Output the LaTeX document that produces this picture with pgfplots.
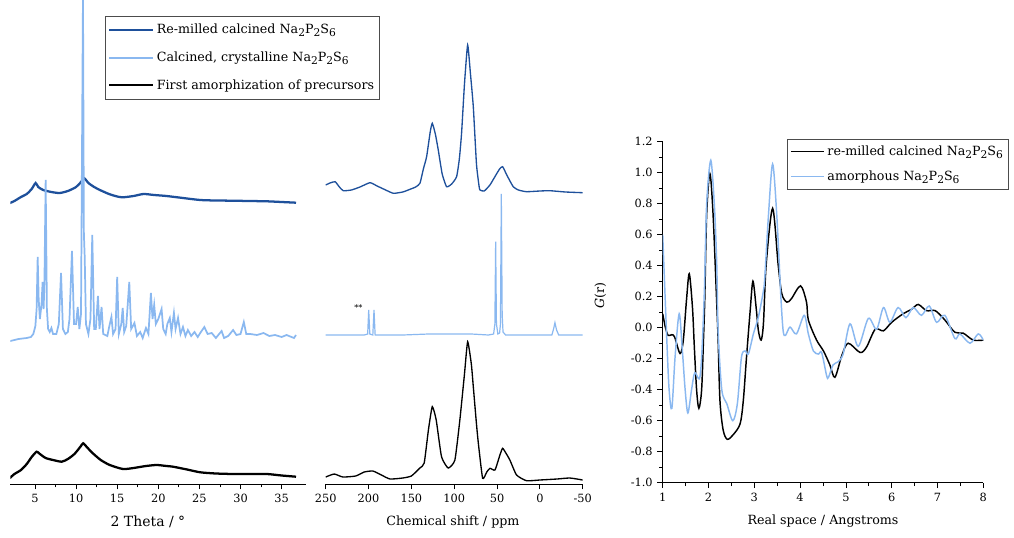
\documentclass[border=0pt]{standalone}
\usepackage{fontspec}
\setmainfont{DejaVu Serif}
\usepackage{pgfplots}
\pgfplotsset{compat=1.18}
\definecolor{dblue}{RGB}{30,80,155}
\definecolor{lblue}{RGB}{138,184,240}
\newcommand\sbs[1]{\raisebox{-0.45ex}{\fontsize{8}{8}\selectfont #1}}
\newcommand\NPS{Na\sbs{2}P\sbs{2}S\sbs{6}}
\begin{document}
\begin{tikzpicture}
\useasboundingbox (0,0) rectangle (760.5pt,402.75pt);
% ---------------- Panel 1: XRD ----------------
\begin{axis}[
  at={(7.725pt,39.75pt)}, anchor=south west,
  scale only axis, width=222pt, height=363pt,
  xmin=2, xmax=38, ymin=0, ymax=484,
  axis x line*=bottom, hide y axis,
  xtick={5,10,...,35}, minor x tick num=1,
  tick align=outside, major tick length=4pt, minor tick length=2.5pt,
  tick style={black, semithick},
  every axis x line/.append style={black, semithick},
  /pgf/number format/assume math mode=true,
  ticklabel style={font=\fontsize{8.5}{10}\selectfont},
  xlabel={2 Theta / °},
  xlabel style={at={(axis description cs:0.465,-0.0785)},anchor=center,font=\fontsize{10.5}{12}\selectfont},
  legend style={at={(axis description cs:0.32,0.967)},anchor=north west,
    draw=black!70, thin, font=\fontsize{9.5}{11}\selectfont, row sep=8pt, inner ysep=4pt, inner xsep=2pt},
  legend cell align=left,
  legend image code/.code={\draw[#1] (0pt,0pt) -- (33pt,0pt);},
  clip=true,
]
\addplot[dblue, line width=1.7pt, smooth, tension=0.4] coordinates {
(1.96,281) (2.5,283) (3.3,287) (4.0,290) (4.6,295) (5.08,301) (5.4,297) (6.0,294) (7.0,292) (8.0,291) (9.0,293) (10.0,297) (10.6,302) (11.0,305.7) (11.5,301) (12.2,297) (12.9,294) (14.0,290) (15.0,287.5) (15.7,286.7) (17.0,288) (18.2,290) (19.5,289) (21.0,288) (23.0,286) (25.1,284) (27.0,283.5) (29.1,283.3) (31.0,283) (33.2,282.7) (35.0,282) (36.75,281.3)};
\addlegendentry{Re-milled calcined \NPS}
\addplot[lblue, line width=1.3pt] coordinates {
(2.0,143) (3.0,145) (4.0,146) (4.5,147) (4.8,150) (5.05,158) (5.2,175) (5.33,227) (5.45,185) (5.6,165) (5.8,180) (5.93,202) (6.05,175) (6.15,200) (6.3,304) (6.45,175) (6.6,155) (6.8,152) (7.0,156) (7.2,150) (7.6,150) (7.9,160) (8.17,211) (8.4,155) (8.7,150) (9.0,152) (9.2,165) (9.5,233) (9.75,160) (10.0,160) (10.2,177) (10.4,155) (10.6,170) (10.84,490) (10.95,250) (11.05,227) (11.2,160) (11.5,150) (11.75,165) (11.97,249) (12.2,155) (12.4,155) (12.66,188) (12.85,155) (13.1,177) (13.3,150) (13.8,148) (14.1,160) (14.3,167) (14.5,150) (14.8,155) (15.0,207) (15.2,150) (15.5,160) (15.67,176) (15.85,152) (16.1,158) (16.47,202) (16.7,155) (17.1,161) (17.4,148) (17.8,152) (18.1,146) (18.5,156) (18.8,150) (19.1,191) (19.3,165) (19.5,179) (19.7,160) (20.0,165) (20.4,175) (20.6,155) (20.9,150) (21.1,160) (21.4,166) (21.6,152) (21.9,171) (22.1,155) (22.4,166) (22.7,150) (23.0,157) (23.3,148) (23.6,154) (24.0,148) (24.4,152) (24.8,147) (25.1,151) (25.6,157) (26.0,150) (26.5,151) (27.0,146) (27.7,153) (28.0,146) (28.5,148) (29.1,154) (29.5,149) (30.0,150) (30.4,162) (30.7,150) (31.2,150) (32.0,149) (32.8,151) (33.5,148) (34.2,149) (35.0,147) (35.6,149) (36.2,147) (36.5,146) (36.75,149)};
\addlegendentry{Calcined, crystalline \NPS}
\addplot[black, line width=1.7pt, smooth, tension=0.4] coordinates {
(1.96,6) (2.5,10) (3.3,14) (4.0,20) (4.6,27) (5.2,32.3) (5.6,30) (6.3,26) (7.2,24) (8.25,22.3) (9.0,25) (9.8,30) (10.5,37) (10.87,40.7) (11.3,37) (12.0,31) (13.0,24) (14.1,19) (15.7,15) (17.0,16) (18.5,18) (19.8,19) (21.0,18) (21.8,17.3) (23.5,14.5) (25.1,11.7) (27.0,10.5) (29.1,10) (31.0,10) (33.2,10) (35.0,8.5) (36.75,7.3)};
\addlegendentry{First amorphization of precursors}
\end{axis}
% ---------------- Panel 2: NMR ----------------
\begin{axis}[
  at={(244.275pt,39.75pt)}, anchor=south west,
  scale only axis, width=192.75pt, height=363pt,
  xmin=-50, xmax=250, x dir=reverse, ymin=0, ymax=484,
  axis x line*=bottom, hide y axis,
  xtick={-50,0,...,250},
  tick align=outside, major tick length=4pt,
  tick style={black, semithick},
  every axis x line/.append style={black, semithick},
  /pgf/number format/assume math mode=true,
  ticklabel style={font=\fontsize{8.5}{10}\selectfont},
  xlabel={Chemical shift / ppm},
  xlabel style={at={(axis description cs:0.495,-0.078)},anchor=center,font=\fontsize{9.5}{11}\selectfont},
]
\addplot[dblue, line width=1.0pt, smooth, tension=0.3] coordinates {
(250,299) (245,301) (239,302.3) (234,297) (229.5,293.3) (220,294) (210,297) (198.3,301.3) (190,298) (180,294) (171,290.7) (160,292) (151.6,294.7) (145,297) (140,300.7) (136,315) (132.2,327.3) (128,352) (125.6,360.7) (122,350) (118.6,334) (114,310) (108.9,297.3) (103,300) (97.2,307.3) (94,325) (91.4,350.7) (88,400) (84.3,439) (81,410) (77.7,377.3) (74,320) (71,298) (69.9,294) (65,293) (58.3,299) (52,308) (47,315) (43.5,317.3) (38,308) (31.1,297.3) (25,294) (15.6,292.3) (0,293) (-11.6,293.3) (-30,292) (-50,291.3)};
\addplot[lblue, line width=0.9pt] coordinates {
(250,149) (205,149) (201,150) (199.8,174) (198.5,150) (195,149) (193.6,174) (192.3,149) (160,149) (130,150) (100,150) (80,150) (60,149) (54,150) (52.5,160) (51.6,242.3) (50.7,160) (49,150) (47,151) (46,160) (45,290) (44,170) (43,152) (40,149) (20,149) (-14,149) (-16,155) (-17.6,161.3) (-19.5,154) (-22,149) (-50,149)};
\addplot[black, line width=1.0pt, smooth, tension=0.3] coordinates {
(250,7) (240,10) (230,7) (215,8) (205,12) (195,13) (185,9) (175,5) (160,6) (150,8) (140,16) (135,21) (130.1,54) (125.6,77.3) (121,64) (114.8,27.3) (107,16) (99.2,24) (93.4,64) (88,110) (84.3,142.3) (80,120) (77.7,97.3) (74,60) (71.8,40.7) (66.8,5.7) (62,12) (58.3,15.7) (52.4,14) (47,28) (43.5,35.7) (39,30) (35,24) (27.2,9) (15.6,3.3) (0,4) (-20,5) (-35,6) (-50,4)};
\node[font=\fontsize{6}{6}\selectfont] at (axis cs:212,176) {**};
\end{axis}
% ---------------- Panel 3: PDF ----------------
\begin{axis}[
  at={(497.025pt,40.725pt)}, anchor=south west,
  scale only axis, width=240.45pt, height=255.75pt,
  xmin=1, xmax=8, ymin=-1.0, ymax=1.2,
  axis x line*=bottom, axis y line*=left,
  xtick={1,...,8}, minor x tick num=1,
  ytick={-1.0,-0.8,...,1.21}, minor y tick num=1,
  tick align=outside, major tick length=4pt, minor tick length=2.5pt,
  tick style={black, semithick},
  every axis x line/.append style={black, semithick},
  every axis y line/.append style={black, semithick},
  /pgf/number format/assume math mode=true,
  yticklabel style={/pgf/number format/fixed, /pgf/number format/fixed zerofill, /pgf/number format/precision=1},
  ticklabel style={font=\fontsize{8.5}{10}\selectfont},
  xlabel={Real space / Angstroms},
  xlabel style={at={(axis description cs:0.5,-0.114)},anchor=center,font=\fontsize{9.5}{11}\selectfont},
  ylabel={\textit{G}(r)},
  ylabel style={at={(axis description cs:-0.195,0.55)},anchor=center,rotate=0,font=\fontsize{9.5}{11}\selectfont},
  legend style={at={(axis description cs:0.388,1.008)},anchor=north west,
    draw=black!70, thin, font=\fontsize{9.5}{11}\selectfont, row sep=6pt, inner ysep=3pt, inner xsep=2pt},
  legend cell align=left,
  legend image code/.code={\draw[#1] (0pt,0pt) -- (25pt,0pt);},
]
\addplot[black, line width=1.1pt, smooth, tension=0.5] coordinates {
(1.0,0.09) (1.06,0.0) (1.12,-0.05) (1.2,-0.045) (1.26,-0.06) (1.38,-0.167) (1.45,-0.08) (1.52,0.18) (1.58,0.348) (1.65,0.13) (1.69,-0.12) (1.74,-0.40) (1.79,-0.52) (1.85,-0.40) (1.89,-0.08) (1.92,0.2) (1.96,0.73) (2.03,0.995) (2.10,0.73) (2.18,0.155) (2.21,-0.08) (2.25,-0.47) (2.32,-0.66) (2.41,-0.72) (2.54,-0.69) (2.69,-0.62) (2.76,-0.47) (2.83,-0.19) (2.91,0.11) (2.97,0.30) (3.04,0.13) (3.09,-0.02) (3.15,-0.08) (3.20,0.03) (3.26,0.41) (3.40,0.77) (3.52,0.41) (3.60,0.22) (3.71,0.165) (3.81,0.187) (4.01,0.27) (4.14,0.165) (4.18,0.05) (4.36,-0.08) (4.51,-0.15) (4.65,-0.24) (4.76,-0.32) (4.91,-0.18) (5.05,-0.10) (5.31,-0.16) (5.45,-0.125) (5.64,-0.01) (5.82,-0.02) (6.0,0.035) (6.25,0.09) (6.44,0.12) (6.58,0.15) (6.76,0.11) (6.95,0.11) (7.16,0.05) (7.38,-0.03) (7.56,-0.035) (7.78,-0.08) (8.0,-0.08)};
\addlegendentry{re-milled calcined \NPS}
\addplot[lblue, line width=1.1pt, smooth, tension=0.5] coordinates {
(1.0,0.60) (1.09,-0.08) (1.14,-0.40) (1.20,-0.52) (1.27,-0.19) (1.36,0.09) (1.43,-0.15) (1.49,-0.40) (1.55,-0.55) (1.63,-0.40) (1.70,-0.29) (1.80,-0.33) (1.85,-0.19) (1.91,0.24) (1.96,0.80) (2.05,1.08) (2.13,0.78) (2.18,0.41) (2.21,-0.02) (2.29,-0.40) (2.40,-0.49) (2.53,-0.60) (2.63,-0.49) (2.72,-0.19) (2.80,-0.15) (2.87,-0.17) (2.98,-0.04) (3.09,0.07) (3.20,0.24) (3.23,0.33) (3.31,0.73) (3.40,1.056) (3.49,0.73) (3.58,0.20) (3.63,-0.02) (3.68,-0.05) (3.78,0.004) (3.92,-0.04) (4.09,0.08) (4.18,-0.04) (4.29,-0.15) (4.40,-0.17) (4.47,-0.16) (4.58,-0.31) (4.62,-0.32) (4.72,-0.24) (4.83,-0.22) (4.94,-0.17) (5.09,0.025) (5.27,-0.12) (5.49,0.06) (5.67,-0.01) (5.82,0.13) (5.96,0.035) (6.14,0.13) (6.31,0.065) (6.47,0.13) (6.65,0.08) (6.82,0.14) (6.98,0.035) (7.16,0.08) (7.38,-0.07) (7.49,-0.04) (7.71,-0.10) (7.89,-0.04) (8.0,-0.08)};
\addlegendentry{amorphous \NPS}
\end{axis}
\end{tikzpicture}
\end{document}
